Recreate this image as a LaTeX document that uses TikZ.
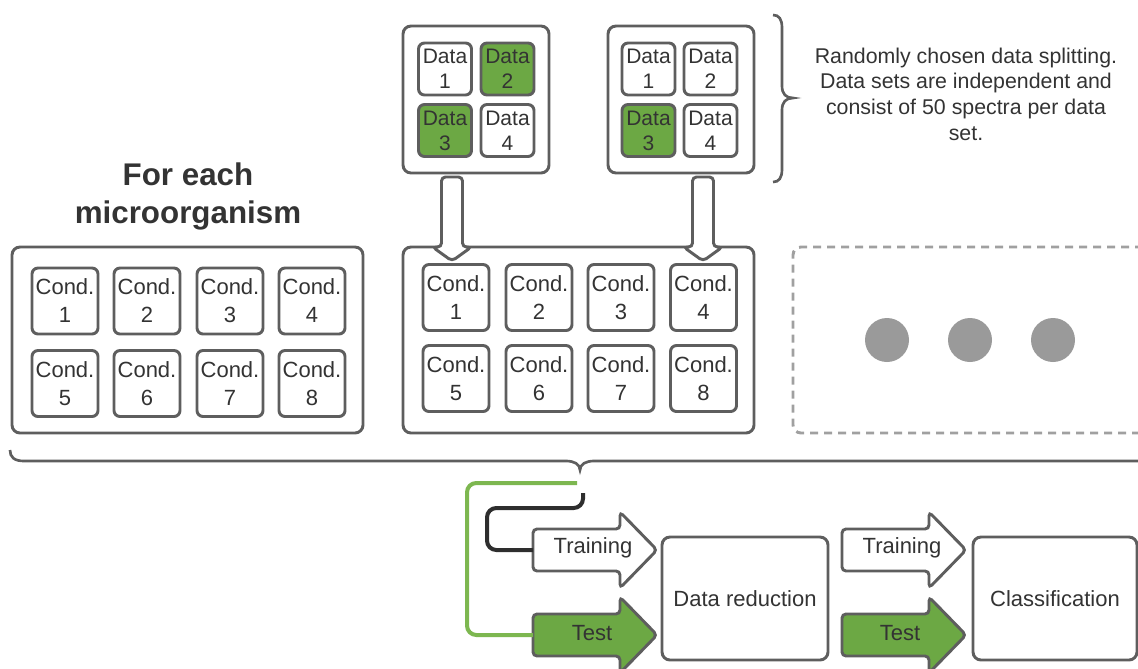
\documentclass[tikz,border=0pt]{standalone}
\usepackage{fontspec}
\setmainfont{Liberation Sans}
\usetikzlibrary{calc}
\definecolor{strk}{HTML}{5E5E5E}
\definecolor{txt}{HTML}{333333}
\definecolor{grn}{RGB}{108,168,68}
\definecolor{grnline}{RGB}{125,183,80}
\definecolor{dotg}{HTML}{9A9A9A}
\definecolor{dashg}{HTML}{A0A0A0}
\definecolor{blk}{HTML}{2E2E2E}
\tikzset{
  bigbox/.style={draw=strk, line width=2.2pt, rounded corners=6pt, fill=white, inner sep=0pt, text=txt},
  cbox/.style={draw=strk, line width=2.2pt, rounded corners=4.5pt, fill=white, minimum width=49.5pt, minimum height=49.5pt, inner sep=0pt, align=center, text=txt, font=\fontsize{16.5}{21}\selectfont},
  dbox/.style={draw=strk, line width=2.2pt, rounded corners=4.5pt, fill=white, minimum width=39.75pt, minimum height=39pt, inner sep=0pt, align=center, text=txt, font=\fontsize{15.75}{18.75}\selectfont},
  dgreen/.style={dbox, fill=grn},
  lbl/.style={text=txt, font=\fontsize{16.5}{20}\selectfont, inner sep=0pt},
  barrowstyle/.style={draw=strk, line width=2.2pt, rounded corners=3pt, fill=white},
  garrowstyle/.style={barrowstyle, fill=grn},
  bracestyle/.style={draw=strk, line width=2pt},
}
\newcommand{\blockarrow}[3]{%
  \draw[#1] (#2,#3-21) -- (#2+87,#3-21) -- (#2+87,#3-38) -- (#2+124,#3) -- (#2+87,#3+38) -- (#2+87,#3+21) -- (#2,#3+21) -- cycle;}
\newcommand{\dnarrow}[1]{%
  \draw[barrowstyle] (#1-10.5,247) -- (#1-10.5,177) -- (#1+10.5,177) -- (#1+10.5,247) -- (#1+19.5,247) -- (#1,261) -- (#1-19.5,247) -- cycle;}
\begin{document}
\begin{tikzpicture}[x=0.75pt,y=-0.75pt]
\useasboundingbox (0,0) rectangle (1138,668);
\clip (0,0) rectangle (1138,668);

% title
\node[text=txt, font=\bfseries\fontsize{23.5}{28.5}\selectfont, align=center] (title) at (188,196) {For each\\microorganism};

% top data-splitting boxes
\node[bigbox, minimum width=109.5pt, minimum height=110.25pt] (split1) at (476,99.5) {};
\node[bigbox, minimum width=109.5pt, minimum height=110.25pt] (split2) at (681,99.5) {};
\node[dbox]   (a1) at (445,69)      {Data\\1};
\node[dgreen] (a2) at (507.5,69)    {Data\\2};
\node[dgreen] (a3) at (445,130.5)   {Data\\3};
\node[dbox]   (a4) at (507.5,130.5) {Data\\4};
\node[dbox]   (b1) at (648.5,69)    {Data\\1};
\node[dbox]   (b2) at (710.5,69)    {Data\\2};
\node[dgreen] (b3) at (648.5,130.5) {Data\\3};
\node[dbox]   (b4) at (710.5,130.5) {Data\\4};

% right brace and note
\draw[bracestyle] (773,15) .. controls (779,15) and (782,19) .. (782,28) -- (782,86) .. controls (782,94) and (786,98) .. (793,98) .. controls (786,98) and (782,102) .. (782,110) -- (782,169) .. controls (782,178) and (779,182) .. (773,182);
\node[text=txt, font=\fontsize{16}{19.25}\selectfont, align=center] (note) at (966,94) {Randomly chosen data splitting.\\Data sets are independent and\\consist of 50 spectra per data\\set.};

% condition boxes (left)
\node[bigbox, minimum width=263.25pt, minimum height=139.5pt] (left) at (187.5,340) {};
\node[cbox] (l1) at (65,301)    {Cond.\\1};
\node[cbox] (l2) at (147,301)   {Cond.\\2};
\node[cbox] (l3) at (230,301)   {Cond.\\3};
\node[cbox] (l4) at (312,301)   {Cond.\\4};
\node[cbox] (l5) at (65,383.5)  {Cond.\\5};
\node[cbox] (l6) at (147,383.5) {Cond.\\6};
\node[cbox] (l7) at (230,383.5) {Cond.\\7};
\node[cbox] (l8) at (312,383.5) {Cond.\\8};

% condition boxes (middle)
\node[bigbox, minimum width=263.25pt, minimum height=139.5pt] (mid) at (578.5,340) {};
\node[cbox] (m1) at (456,297.5)   {Cond.\\1};
\node[cbox] (m2) at (539,297.5)   {Cond.\\2};
\node[cbox] (m3) at (621,297.5)   {Cond.\\3};
\node[cbox] (m4) at (703.5,297.5) {Cond.\\4};
\node[cbox] (m5) at (456,378.5)   {Cond.\\5};
\node[cbox] (m6) at (539,378.5)   {Cond.\\6};
\node[cbox] (m7) at (621,378.5)   {Cond.\\7};
\node[cbox] (m8) at (703.5,378.5) {Cond.\\8};

% down arrows
\dnarrow{452}
\dnarrow{703}

% dashed box with dots
\node[draw=dashg, line width=2.2pt, dash pattern=on 6pt off 4.5pt, rounded corners=6pt, minimum width=268.5pt, minimum height=139.5pt, inner sep=0pt] (more) at (972,340) {};
\node[circle, fill=dotg, minimum size=33pt, inner sep=0pt] (dot1) at (887,340) {};
\node[circle, fill=dotg, minimum size=33pt, inner sep=0pt] (dot2) at (970,340) {};
\node[circle, fill=dotg, minimum size=33pt, inner sep=0pt] (dot3) at (1053,340) {};

% bottom brace
\draw[bracestyle] (10,450) .. controls (10,457) and (14,461) .. (24,461) -- (566,461) .. controls (574,461) and (580,464) .. (580,470) .. controls (580,464) and (586,461) .. (594,461) -- (1150,461);
\coordinate (gstart) at (577,483);
\coordinate (kstart) at (583,493);

% first stage arrows
\blockarrow{barrowstyle}{533}{550}
\blockarrow{garrowstyle}{533}{635}
\coordinate (tr1w) at (533,550);
\coordinate (te1w) at (533,635);
\node[lbl] (tr1) at (593,548) {Training};
\node[lbl] (te1) at (592,633) {Test};

% connectors
\draw[grnline, line width=3pt, rounded corners=7pt] (gstart) -- (467,483) -- (467,635) -- (te1w);
\draw[blk, line width=3pt, rounded corners=7pt] (kstart) -- (583,508) -- (487,508) -- (487,550) -- (tr1w);

% data reduction
\node[bigbox, minimum width=124.5pt, minimum height=92.25pt, font=\fontsize{16.5}{20}\selectfont] (dr) at (745,598.5) {Data reduction};

% second stage arrows
\blockarrow{barrowstyle}{842}{550}
\blockarrow{garrowstyle}{842}{635}
\node[lbl] (tr2) at (902,548) {Training};
\node[lbl] (te2) at (900,633) {Test};

% classification
\node[bigbox, minimum width=123pt, minimum height=92.25pt, font=\fontsize{16.5}{20}\selectfont] (cl) at (1055,598.5) {Classification};
\end{tikzpicture}
\end{document}
